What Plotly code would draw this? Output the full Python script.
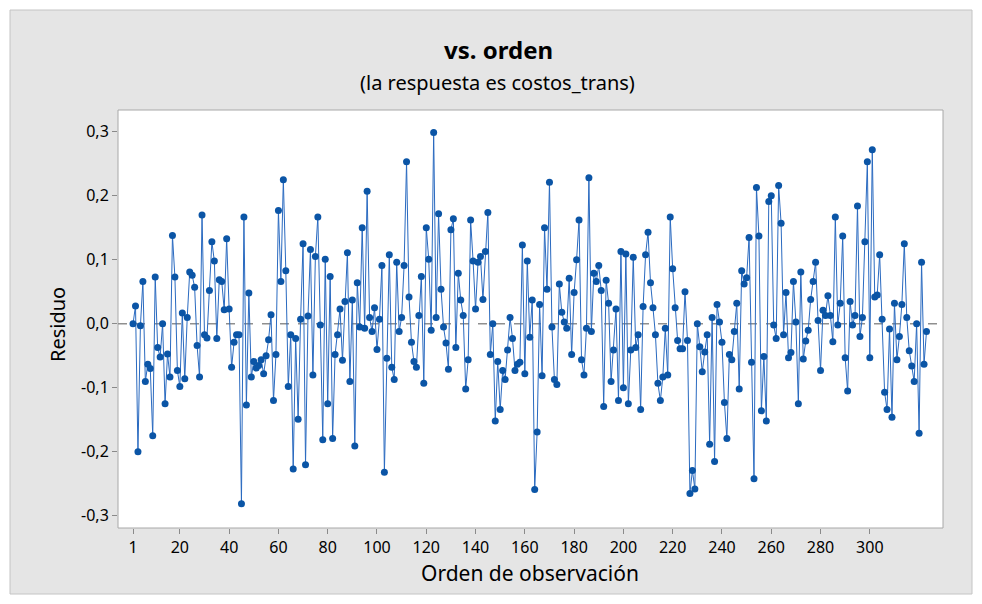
from plotly import graph_objects as go

res_a = [0.000, 0.028, -0.200, -0.003, 0.066, -0.090, -0.063, -0.070, -0.175, 0.073,
         -0.037, -0.052, 0.000, -0.125, -0.047, -0.083, 0.138, 0.073, -0.073, -0.098,
         0.017, -0.086, 0.010, 0.081, 0.076, 0.057, -0.034, -0.083, 0.170]
res_b = [-0.017, -0.022, 0.052, 0.128, 0.098, -0.023, 0.069, 0.066, 0.022, 0.133,
         0.023, -0.068, -0.029, -0.017, -0.017, -0.281, 0.167, -0.127, 0.048, -0.083,
         -0.059, -0.069, -0.065, -0.056, -0.078, -0.050, -0.025, 0.014, -0.120]
res_c = [-0.048, 0.177, 0.066, 0.225, 0.083, -0.098, -0.017, -0.227, -0.023, -0.149,
         0.007, 0.125, -0.220, 0.012, 0.116, -0.080, 0.105, 0.167, -0.002, -0.181,
         0.101, -0.125, 0.074, -0.179, -0.048, -0.017, 0.023, -0.057, 0.035, 0.111]
res_d = [-0.090, 0.037, -0.191, 0.064, -0.005, 0.150, -0.007, 0.207, 0.010, -0.012,
         0.025, -0.040, 0.007, 0.091, -0.232, -0.054, 0.108, -0.068, -0.087, 0.096,
         -0.012, 0.010, 0.091, 0.253, 0.042, -0.029, -0.059, -0.068]
res_e = [0.013, 0.074, -0.093, 0.150, 0.101, -0.010, 0.299, 0.010, 0.172, 0.054,
         -0.005, -0.030, -0.071, 0.147, 0.164, -0.037, 0.079, 0.037, 0.013, -0.102,
         -0.056, 0.162, 0.098, 0.023, 0.096, 0.105, 0.038, 0.113, 0.174, -0.048, 0.000]
res_f = [-0.152, -0.059, -0.134, -0.073, -0.087, -0.041, 0.010, -0.023, -0.073, -0.063,
         -0.060, 0.123, -0.078, 0.098, -0.021, 0.037, -0.259, -0.169, 0.030, -0.081,
         0.150, 0.054, 0.221, -0.005, -0.087, -0.095, 0.062, 0.018, 0.003, -0.007]
res_g = [0.071, -0.048, 0.049, 0.100, 0.162, -0.056, -0.080, -0.007, 0.228, -0.012,
         0.079, 0.066, 0.091, 0.052, -0.129, 0.068, 0.032, -0.090, -0.041, 0.023,
         -0.120, 0.113, -0.100, 0.109, -0.125, -0.041, 0.104, -0.037, -0.017]
res_h = [-0.134, 0.027, 0.108, 0.143, 0.064, 0.025, -0.017, -0.093, -0.120, -0.083,
         -0.007, -0.080, 0.167, 0.086, 0.025, -0.026, -0.039, -0.039, 0.050, -0.026,
         -0.265, -0.229, -0.258, 0.000, -0.036, -0.075, -0.044, -0.017, -0.188]
res_i = [0.010, -0.215, 0.030, 0.003, -0.029, -0.123, -0.179, -0.048, -0.056, -0.012,
         0.032, -0.102, 0.083, 0.062, 0.072, 0.135, -0.060, -0.242, 0.213, 0.137,
         -0.136, -0.051, -0.152, 0.191, 0.200, -0.002, -0.023, 0.216, 0.157]
res_j = [-0.017, 0.049, -0.053, -0.045, 0.066, 0.003, -0.125, 0.081, -0.055, -0.027,
         -0.010, 0.038, 0.066, 0.096, 0.005, -0.073, 0.021, 0.013, 0.044, 0.013,
         -0.028, 0.167, -0.002, 0.032, 0.137, -0.053, -0.105, 0.035, -0.002, 0.013]
res_k = [0.184, -0.020, 0.010, 0.128, 0.253, -0.053, 0.272, 0.042, 0.045, 0.108,
         0.007, -0.107, -0.134, -0.008, -0.146, 0.032, -0.056, -0.020, 0.030, 0.125,
         0.010, -0.042, -0.066, -0.090, 0.000, -0.171, 0.096, -0.063, -0.012]

x_ticks = [1, 20, 40, 60, 80, 100, 120, 140, 160, 180, 200, 220, 240, 260, 280, 300]
y_ticks = [-0.3, -0.2, -0.1, 0.0, 0.1, 0.2, 0.3]
y_labels = ["-0,3", "-0,2", "-0,1", "0,0", "0,1", "0,2", "0,3"]

residuos = res_a + res_b + res_c + res_d + res_e + res_f + res_g + res_h + res_i + res_j + res_k
orden = list(range(1, len(residuos) + 1))

FONT = "Noto Sans"
OFF = 8                      # default body margin of the html page
W, H = 982 - 2 * OFF, 604 - 2 * OFF
L, R, T = 118 - OFF, W - (943 - OFF), 110 - OFF
B = H - (528 - OFF)
pw, ph = W - L - R, H - T - B

# page pixel -> paper coordinate
def px(x):
    return (x - OFF - L) / pw

def py(y):
    return (H - B - (y - OFF)) / ph

fig = go.Figure()
fig.add_trace(go.Scatter(x=orden, y=residuos, mode='lines+markers',
                         line=dict(color='#2a6ac0', width=1),
                         marker=dict(color='#0b55a6', size=7),
                         showlegend=False))

shapes = [
    # grey panel behind everything
    dict(type='rect', xref='paper', yref='paper', layer='below',
         x0=px(10), x1=px(972), y0=py(594), y1=py(10),
         fillcolor='#e5e5e5', line=dict(color='#c4c4c4', width=1)),
    # white data region
    dict(type='rect', xref='paper', yref='paper', layer='below',
         x0=0, x1=1, y0=0, y1=1,
         fillcolor='white', line=dict(color='#a8a8a8', width=1)),
    # reference line at zero
    dict(type='line', xref='paper', yref='y', layer='below',
         x0=0, x1=1, y0=0, y1=0,
         line=dict(color='#8f8f8f', width=1.5, dash='dash')),
]

annotations = [
    dict(text='<b>vs. orden</b>', x=px(498), y=py(50),
         font=dict(family=FONT, size=24, color='black')),
    dict(text='(la respuesta es costos_trans)', x=px(497), y=py(83),
         font=dict(family=FONT, size=20, color='black')),
    dict(text='Orden de observación', x=px(530), y=py(573),
         font=dict(family=FONT, size=21, color='black')),
    dict(text='Residuo', x=px(57), y=py(325), textangle=-90,
         font=dict(family=FONT, size=20, color='black')),
]
for a in annotations:
    a.update(xref='paper', yref='paper', showarrow=False,
             xanchor='center', yanchor='middle')

fig.update_layout(
    width=W, height=H,
    margin=dict(l=L, r=R, t=T, b=B, pad=0),
    paper_bgcolor='white', plot_bgcolor='white',
    shapes=shapes, annotations=annotations,
    font=dict(family=FONT, color='black'),
)
fig.update_xaxes(range=[-5.1, 329.7], tickvals=x_ticks, ticks='outside',
                 ticklen=5, tickcolor='#8a8a8a', showgrid=False, zeroline=False,
                 showline=False, tickfont=dict(family=FONT, size=16, color='black'))
fig.update_yaxes(range=[-0.319, 0.334], tickvals=y_ticks, ticktext=y_labels,
                 ticks='outside', ticklen=5, tickcolor='#8a8a8a', showgrid=False,
                 zeroline=False, showline=False,
                 tickfont=dict(family=FONT, size=16, color='black'))

fig.write_html("out.html")
